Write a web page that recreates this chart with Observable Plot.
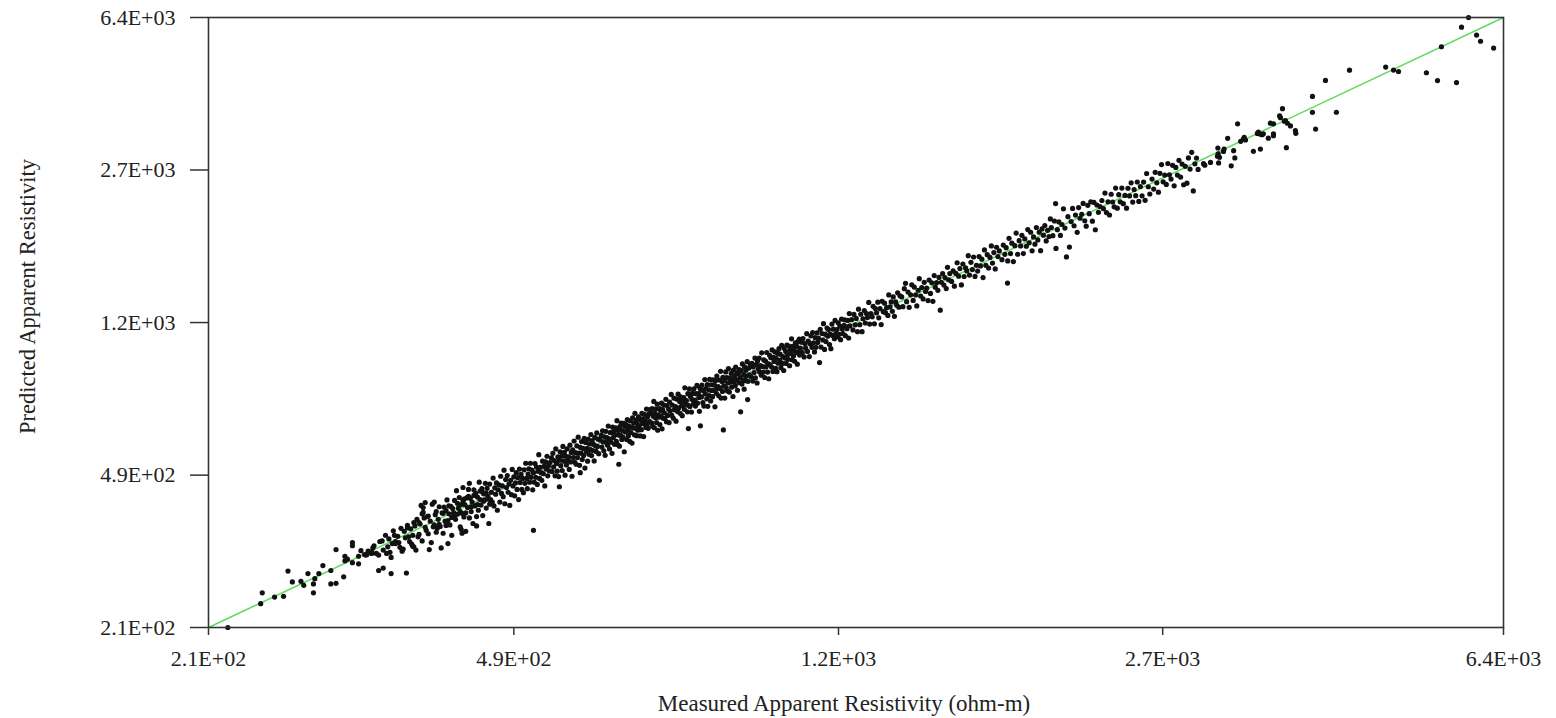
<!DOCTYPE html>
<html>
<head>
<meta charset="utf-8">
<script src="https://cdn.jsdelivr.net/npm/d3@7"></script>
<script src="https://cdn.jsdelivr.net/npm/@observablehq/plot@0.6"></script>
<style>
html, body { margin: 0; padding: 0; background: #fff; }
#chart { width: 1556px; height: 718px; }
</style>
</head>
<body>
<div id="chart"></div>
<script>
// ---- data (ohm-m) ----
const axisRange = [210, 6400];
// tick positions as they sit on the reference's measured axis
const xTickValues = [210, 470, 1107, 2604, 6400];
const yTickValues = [210, 493, 1159, 2724, 6400];
const tickLabels = ["2.1E+02", "4.9E+02", "1.2E+03", "2.7E+03", "6.4E+03"];
const xTitle = "Measured Apparent Resistivity (ohm-m)";
const yTitle = "Predicted Apparent Resistivity";

// [measured, predicted]
const pointsLow = [
[221,210],[241,240],[242,255],[250,249],[256,250],[259,288],[262,271],[268,272],[270,266],[273,284],[277,268],[277,255],[278,276],[281,284],[284,297],[290,289],[290,268],[294,269],[294,325],[300,279],[301,305],[303,308],[307,302],[307,332],[307,338],[312,300],[318,315],[320,322],[323,318],[329,289],[333,293],[340,284],[350,322],[354,285],[360,331],[363,324],
[301,313],[312,313],[314,323],[317,316],[319,316],[321,320],[323,321],[324,328],[325,332],[329,315],[333,324],[336,318],[340,311],[341,336],[344,340],[359,335],[361,330],[351,326],
[330,340],[335,352],[338,345],[342,361],[346,350],[349,366],[352,360],[355,372],[358,365],[361,378],[356,349],[344,336],[355,367],[369,397],[370,411],[372,423],[381,424],[395,336],[409,364],[410,356],
[327,318],[332,341],[337,330],[339,320],[343,352],[347,338],[348,329],[353,347],[357,340],[360,352],[362,371],[365,349],[366,378],[373,362],[375,392],[380,369],[383,402],[386,374],[390,398],[393,372],[396,415],[399,389],[402,394],[405,421],[408,402],[411,427],[414,399],[417,438],[420,413],[423,440],[427,418],[430,451],[434,426],[437,446],[440,431],
[364,385],[366,354],[367,375],[369,341],[370,400],[372,368],[374,391],[375,355],[377,381],[378,338],[379,419],[381,373],[382,395],[383,358],[385,385],[386,413],[387,370],[389,399],[390,356],[391,412],[392,381],[394,429],[395,382],[396,397],[397,373],[398,414],[399,352],[400,409],[401,399],[402,428],[403,385],[404,452],[405,396],[406,410],[368,416],[376,325],[388,328],[393,404],[384,366],[371,388],
[407,435],[408,369],[409,418],[410,398],[411,460],[412,390],[413,418],[414,360],[415,434],[416,411],[417,455],[418,388],[419,433],[420,402],[421,424],[422,376],[423,454],[424,415],[425,445],[426,391],[427,436],[428,405],[429,474],[430,430],[431,417],[432,457],[433,393],[434,444],[435,429],[436,471],[437,410],[438,458],[439,438],[440,376],[441,469],[442,430],[443,448],[444,424],[445,485],[446,415],[447,459],[448,443],[449,472],[450,405],[451,454],[412,431],[418,471],[426,371],[433,448],[441,419]
];

const pointsMid = [
[452,467],[453,424],[454,490],[455,445],[456,464],[457,437],[458,507],[459,420],[460,481],[461,460],[462,492],[463,448],[464,469],[465,416],[466,479],[467,442],[468,509],[469,464],[470,488],[471,439],[472,472],[473,500],[474,455],[475,486],[476,430],[477,510],[478,473],[479,495],[480,455],[481,484],[482,447],[483,508],[484,471],[485,527],[486,484],[487,457],[488,496],[489,511],[490,474],[491,527],[492,487],[493,507],[494,454],[495,500],[496,474],[497,526],[498,487],[499,516],[500,468],[501,504],[502,553],[503,484],[504,515],[505,500],[506,479],[507,533],[508,497],[509,518],[510,464],[511,531],[512,510],[513,548],[514,491],[515,520],[516,505],[517,529],[495,362],
[519,543],[520,503],[521,557],[522,516],[523,535],[524,491],[525,571],[526,526],[527,504],[528,546],[529,489],[530,536],[531,562],[532,520],[533,548],[534,506],[535,579],[536,533],[537,560],[538,493],[539,548],[540,522],[541,571],[542,535],[543,546],[544,509],[545,583],[546,531],[547,560],[548,490],[549,568],[550,544],[551,597],[552,530],[553,559],[554,524],[555,581],[556,544],[557,610],[558,558],[559,521],[560,576],[561,558],[562,595],[563,538],[564,573],[565,550],[566,606],[567,513],[568,592],[569,562],[570,573],[571,533],[572,603],[573,554],[574,587],[575,569],[576,619],[577,550],[578,598],[579,566],[580,586],[581,534],[582,609],[583,581],[584,563],[585,625],[586,579],[587,603],[588,556],[589,479],[590,600],[530,462],[560,500],
[592,616],[593,577],[594,632],[595,594],[596,565],[597,611],[598,551],[599,630],[600,592],[601,608],[602,583],[603,649],[604,604],[605,571],[606,626],[607,593],[608,625],[609,557],[610,645],[611,608],[612,629],[613,586],[614,617],[615,643],[616,596],[617,669],[618,585],[619,633],[620,617],[621,580],[622,647],[623,616],[624,660],[625,602],[626,633],[627,610],[628,659],[629,562],[630,648],[631,628],[632,654],[633,602],[634,673],[635,635],[636,615],[637,648],[638,596],[639,668],[640,626],[641,645],[642,590],[643,680],[644,642],[645,660],[646,618],[647,697],[648,641],[649,671],[650,615],[651,658],[652,634],[653,683],[654,647],[655,678],[656,614],[657,672],[658,636],[659,697],[660,658],[661,676],[662,612],[663,693],[664,657],[665,668],[666,644],[667,714],[668,653],[669,684],[670,641],[671,694],[672,665],[673,712],[620,524],
[675,698],[676,661],[677,716],[678,648],[679,687],[680,745],[681,643],[682,698],[683,680],[684,715],[685,662],[686,734],[687,634],[688,690],[689,682],[690,716],[691,654],[692,708],[693,686],[694,738],[695,639],[696,712],[697,678],[698,730],[699,699],[700,677],[702,754],[703,665],[704,728],[705,689],[707,715],[708,662],[709,742],[710,706],[712,775],[713,689],[714,730],[716,678],[717,759],[718,711],[720,724],[721,667],[722,755],[724,704],[725,776],[726,718],[728,745],[729,697],[730,764],[732,728],[733,688],[734,746],[736,761],[737,713],[738,804],[740,732],[741,749],[743,703],[744,778],[745,729],[747,799],[748,724],[749,766],[751,702],[752,754],[753,779],[755,735],[756,800],[758,750],[759,726],[760,778],[762,815],[763,738],[765,778],[766,762],[767,705],[768,803],[745,640],[769,650],[817,635]
];

const pointsUpper = [
[770,795],[771,764],[772,816],[774,740],[775,791],[776,726],[778,842],[779,777],[780,801],[782,756],[783,819],[784,725],[786,795],[787,770],[788,843],[790,747],[791,818],[792,792],[794,765],[795,841],[796,792],[798,816],[799,723],[800,837],[802,780],[803,859],[804,802],[806,810],[807,769],[808,840],[810,801],[811,882],[812,759],[814,833],[815,788],[816,853],[818,813],[819,838],[820,759],[822,879],[823,805],[824,852],[826,790],[827,827],[828,895],[830,785],[831,850],[832,830],[834,872],[835,807],[836,845],[838,766],[839,888],[840,831],[842,861],[843,813],[844,903],[846,841],[847,876],[848,793],[850,870],[851,828],[852,891],[854,852],[855,703],[856,885],[858,821],[859,919],[860,841],[862,866],[863,798],[864,904],[866,837],[867,887],[868,858],[870,931],[871,753],[872,834],[874,898],[875,865],[877,917],
[879,855],[881,922],[883,835],[884,904],[886,876],[888,950],[889,850],[891,916],[893,826],[894,935],[896,894],[898,950],[899,879],[901,911],[903,863],[904,978],[906,906],[908,878],[909,940],[911,852],[913,934],[914,904],[916,980],[918,878],[919,921],[921,846],[923,965],[924,914],[926,952],[928,903],[929,994],[931,881],[933,954],[934,932],[936,983],[938,897],[939,949],[941,880],[943,975],[944,923],[946,1001],[948,938],[949,971],[951,900],[953,1020],[954,922],[956,958],[958,886],[959,1003],[961,950],[963,985],[964,922],[966,1022],[968,968],[969,943],[971,1016],[973,910],[974,996],[976,974],[978,1058],[979,941],[981,1014],[983,961],[984,995],[986,933],[988,1034],[989,978],[991,1014],[993,918],[994,1040],[996,985],[998,1056],[999,966],[1001,1004],
[1004,1038],[1006,979],[1008,1060],[1011,956],[1013,1030],[1015,1004],[1018,1089],[1020,986],[1022,1045],[1025,958],[1027,1029],[1029,1076],[1032,1009],[1034,1096],[1036,1034],[1039,983],[1041,1065],[1043,1009],[1046,1094],[1048,1037],[1050,1062],[1053,926],[1055,1116],[1057,1010],[1060,1090],[1062,1051],[1064,1152],[1067,997],[1069,1086],[1071,1042],[1074,1124],[1076,1074],[1078,1115],[1081,1025],[1083,1086],[1085,1001],[1088,1149],[1090,1078],[1092,1117],[1095,1059],[1097,1173],[1099,1087],[1102,1114],[1104,1069],[1106,1157],[1109,1085],[1111,1136],[1113,1053],[1116,1181],[1118,1118],[1120,1090],[1123,1141],[1125,1177],[1127,1077],[1130,1133],[1132,1120],[1134,1173],[1137,1063],[1139,1219],[1141,1138],
[1146,1178],[1150,1112],[1153,1213],[1157,1144],[1160,1186],[1164,1101],[1167,1249],[1171,1145],[1174,1214],[1178,1101],[1181,1184],[1185,1240],[1188,1156],[1192,1219],[1195,1192],[1199,1297],[1202,1149],[1206,1219],[1210,1197],[1213,1269],[1217,1151],[1220,1254],[1224,1224],[1228,1299],[1231,1190],[1235,1254],[1239,1146],[1242,1306],[1246,1232],[1250,1292],[1253,1225],[1257,1260],[1261,1206],[1264,1353],[1268,1265],[1272,1301],[1276,1234],[1279,1338],[1283,1200],[1287,1301],[1291,1277],[1294,1369],[1298,1263],[1302,1346]
];

const pointsHigh = [
[1308,1338],[1312,1267],[1317,1401],[1321,1444],[1325,1303],[1330,1375],[1334,1262],[1339,1354],[1343,1432],[1348,1312],[1352,1414],[1357,1353],[1361,1272],[1366,1389],[1370,1482],[1375,1345],[1379,1410],[1384,1323],[1388,1452],[1393,1379],[1397,1405],[1402,1311],[1406,1471],[1411,1364],[1416,1448],[1420,1305],[1425,1508],[1429,1413],[1434,1449],[1439,1388],[1443,1492],[1448,1242],[1452,1452],[1457,1524],[1462,1430],[1466,1491],[1471,1402],[1476,1579],[1480,1472],[1485,1525],
[1492,1459],[1498,1548],[1503,1421],[1509,1526],[1514,1620],[1520,1503],[1525,1568],[1531,1431],[1537,1609],[1542,1500],[1548,1574],[1553,1548],[1559,1686],[1564,1512],[1570,1624],[1576,1559],[1581,1673],[1587,1501],[1593,1597],[1598,1546],[1604,1678],[1610,1592],[1616,1653],[1621,1491],[1627,1741],[1633,1597],[1639,1695],[1645,1573],[1651,1669],[1657,1780],[1662,1617],[1668,1715],[1674,1565],[1680,1767],[1686,1677],[1692,1731],[1729,1446],
[1704,1648],[1710,1789],[1717,1698],[1723,1763],[1730,1637],[1736,1858],[1743,1705],[1749,1808],[1756,1631],[1763,1783],[1769,1913],[1776,1699],[1783,1833],[1790,1780],[1796,1889],[1803,1706],[1810,1851],[1817,1777],[1824,1951],[1831,1811],[1838,1922],[1845,1732],[1852,1872],[1859,1798],[1866,1974],[1873,1841],[1880,1923],[1887,1734],[1894,1958],[1901,1891],[1908,1996],[1915,1831],[1922,1943],[1929,1877],[1936,2071],
[1941,1974],[1949,1885],[1957,2047],[1963,2257],[1965,1756],[1972,1950],[1980,2036],[1988,1888],[1996,2007],[2004,2191],[2012,1968],[2020,1674],[2028,2097],[2036,1769],[2045,2040],[2053,2196],[2061,1993],[2069,2116],[2078,1921],[2086,2207],[2094,2079],[2103,2126],[2111,2259],[2120,2050],[2128,1989],[2137,2235],[2145,2133],[2154,2279],[2163,2045],[2172,2272],[2180,1949],[2189,2239],[2198,2149],[2207,2219]
];

const pointsTop = [
[2218,2296],[2227,2193],[2236,2393],[2245,2146],[2254,2279],[2263,2117],[2273,2378],[2282,2277],[2291,2216],[2300,2462],[2310,2200],[2319,2372],[2328,2279],[2338,2462],[2347,2256],[2357,2362],[2367,2200],[2376,2459],[2386,2356],[2396,2535],[2406,2276],[2415,2442],[2425,2359],[2435,2547],[2445,2284],[2455,2482],[2466,2357],[2476,2546],[2486,2298],[2496,2671],[2507,2480],[2517,2381],
[2532,2589],[2543,2448],[2553,2688],[2564,2535],[2575,2406],[2585,2673],[2596,2808],[2607,2550],[2618,2647],[2629,2513],[2640,2825],[2651,2651],[2662,2589],[2673,2796],[2684,2493],[2696,2764],[2707,2647],[2718,2876],[2730,2618],[2741,2816],[2752,2508],[2764,2780],[2776,2530],[2787,2915],[2799,2738],[2811,3008],[2823,2422],[2835,2819],[2847,2912],[2859,2733],
[2900,2822],[2910,2799],[2954,2842],[3009,2943],[3015,2982],[3025,2925],[3057,3022],[3062,3062],[3012,3081],[3091,3252],[3173,3528],[3140,3036],[3150,2914],[3120,2789],[3018,2834],[3199,3199],[3222,3240],[3229,3270],[3240,3222],[3308,3024],[3370,3063],[3343,3343],[3352,3370],[3370,3330],[3385,3320],[3396,3335],[3441,3255],[3488,3335],[3460,3540],[3488,3527],[3553,3652],[3572,3840],[3590,3580],[3600,3590],[3619,3539],[3648,3487],[3696,3397],[3700,3345],[3609,3086],[3545,3687],[3488,3300],
[3866,3762],[3898,3426],[4118,3764],[4001,4500],[3866,4113],[4263,4766],[4690,4849],[4788,4767],[4851,4730],[5222,4696],[5377,4496],[5654,4444],[5433,5433],[5729,6061],[5836,6400],[5961,5800],[6024,5602],[6235,5393]
];

// ---- build ----
const points = [...pointsLow, ...pointsMid, ...pointsUpper, ...pointsHigh, ...pointsTop]
  .map(([measured, predicted]) => ({measured, predicted}));
const oneToOne = axisRange.map(v => ({measured: v, predicted: v}));
const fmtX = d => tickLabels[xTickValues.indexOf(d)];
const fmtY = d => tickLabels[yTickValues.indexOf(d)];
const serif = "'Liberation Serif', 'Times New Roman', Times, serif";

const chart = Plot.plot({
  width: 1556,
  height: 718,
  marginTop: 17,
  marginBottom: 91,
  marginLeft: 208,
  marginRight: 53,
  style: {fontFamily: serif, fontSize: "22px", color: "#222", background: "#fff"},
  x: {type: "log", domain: axisRange},
  y: {type: "log", domain: axisRange},
  marks: [
    Plot.axisX(xTickValues, {tickFormat: fmtX, tickSize: 8, tickPadding: 15, label: null, stroke: "#333", strokeWidth: 1.5}),
    Plot.axisY(yTickValues, {tickFormat: fmtY, tickSize: 18, tickPadding: 15, label: null, stroke: "#333", strokeWidth: 1.5}),
    Plot.line(oneToOne, {x: "measured", y: "predicted", stroke: "#5fdc5f", strokeWidth: 1.5}),
    Plot.dot(points, {x: "measured", y: "predicted", r: 2.6, fill: "#111", stroke: null}),
    Plot.frame({stroke: "#333", strokeWidth: 1.6}),
    Plot.text([xTitle], {text: d => d, frameAnchor: "bottom", textAnchor: "middle", lineAnchor: "middle", dx: -12, dy: 76, fontSize: 23, fill: "#222"}),
    Plot.text([yTitle], {text: d => d, frameAnchor: "left", textAnchor: "middle", lineAnchor: "middle", dx: -181, dy: -26, rotate: -90, fontSize: 22.5, fill: "#222"})
  ]
});
document.getElementById("chart").appendChild(chart);
</script>
</body>
</html>
